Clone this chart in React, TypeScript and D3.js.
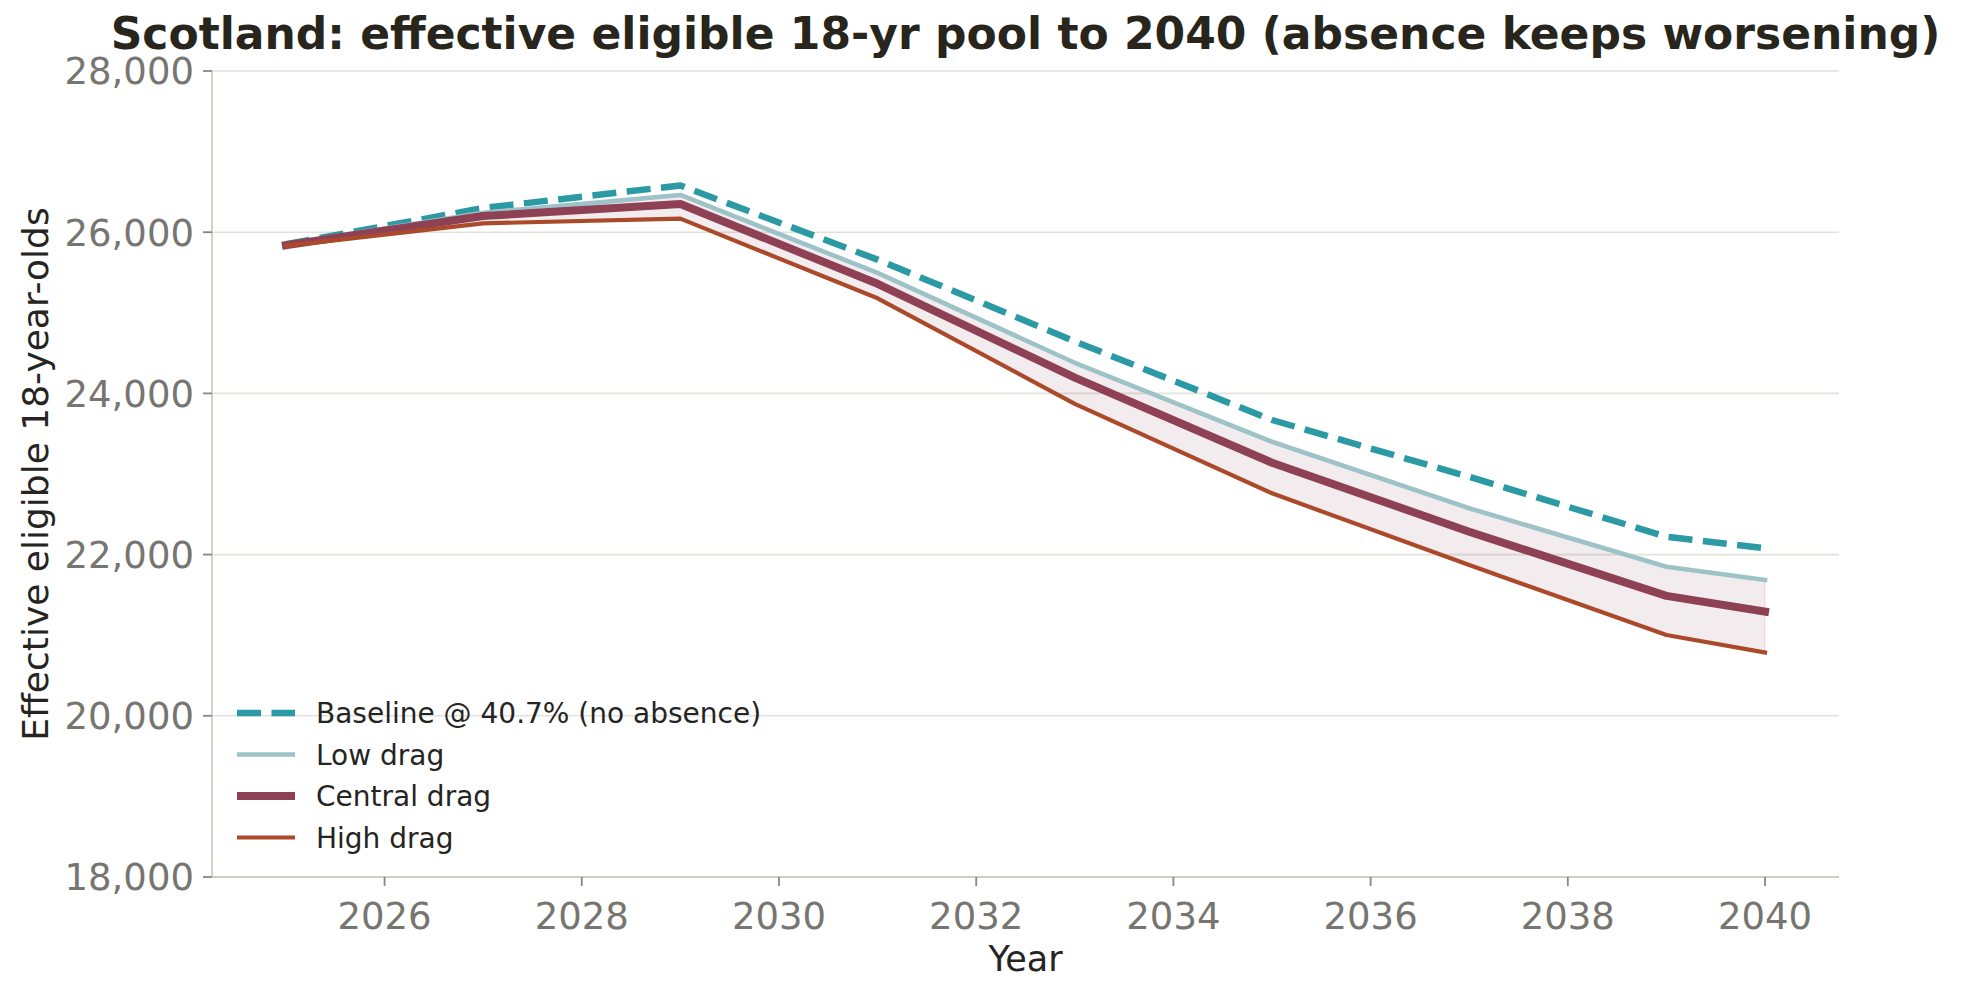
import React from 'react';
import * as d3 from 'd3';

// Values
const years = [2025, 2027, 2029, 2031, 2033, 2035, 2037, 2039, 2040];
const baseline = [25850, 26300, 26580, 25660, 24645, 23670, 22965, 22222, 22080];
const lowDrag = [25850, 26240, 26462, 25495, 24380, 23400, 22575, 21850, 21685];
const centralDrag = [25840, 26200, 26350, 25360, 24195, 23140, 22284, 21488, 21292];
const highDrag = [25830, 26110, 26168, 25180, 23870, 22760, 21871, 21002, 20785];

const xTicks = [2026, 2028, 2030, 2032, 2034, 2036, 2038, 2040];
const yTicks = [18000, 20000, 22000, 24000, 26000, 28000];

const seriesNames = ['Baseline @ 40.7% (no absence)', 'Low drag', 'Central drag', 'High drag'];

const W = 1963, H = 1002;
const margin = { top: 71, right: 124, bottom: 125, left: 212 };
const FONT = '"DejaVu Sans", sans-serif';

type Pt = { year: number; v: number };
const toPts = (vals: number[]): Pt[] => years.map((year, i) => ({ year, v: vals[i] }));

export default function App() {
  const x = d3.scaleLinear().domain([2024.25, 2040.75]).range([margin.left, W - margin.right]);
  const y = d3.scaleLinear().domain([18000, 28000]).range([H - margin.bottom, margin.top]);

  const line = d3.line<Pt>().x(d => x(d.year)).y(d => y(d.v));
  const band = d3.area<number>()
    .x((_, i) => x(years[i]))
    .y0((_, i) => y(highDrag[i]))
    .y1(d => y(d));

  const fmt = d3.format(',');

  const styles = [
    { color: '#2b9aa4', width: 6.5, dash: '24 10.5' },
    { color: '#9dc3c8', width: 4.6, dash: '' },
    { color: '#8e4155', width: 8, dash: '' },
    { color: '#ab4a2b', width: 4.2, dash: '' },
  ];
  const data = [baseline, lowDrag, centralDrag, highDrag];

  const x0 = margin.left, x1 = W - margin.right;
  const y0 = H - margin.bottom, y1 = margin.top;
  const tickLen = 9;

  return (
    <div style={{ position: 'absolute', left: 0, top: 0 }}>
      <svg width={W} height={H} style={{ display: 'block', background: '#fff' }} fontFamily={FONT}>
        {/* grid */}
        {yTicks.map(t => (
          <line key={'g' + t} x1={x0} x2={x1} y1={y(t)} y2={y(t)} stroke="#e3e1dc" strokeWidth={1.6} />
        ))}

        {/* band between low and high drag */}
        <path d={band(lowDrag) || ''} fill="#8e4155" fillOpacity={0.1} stroke="#8e4155" strokeOpacity={0.1} strokeWidth={1.5} />

        {/* series */}
        {data.map((vals, i) => (
          <path key={i} d={line(toPts(vals)) || ''} fill="none" stroke={styles[i].color}
            strokeWidth={styles[i].width} strokeDasharray={styles[i].dash || undefined}
            strokeLinejoin="round" strokeLinecap={styles[i].dash ? 'butt' : 'square'} />
        ))}

        {/* spines */}
        <line x1={x0} x2={x0} y1={y1} y2={y0} stroke="#cfccc6" strokeWidth={1.8} />
        <line x1={x0} x2={x1} y1={y0} y2={y0} stroke="#cfccc6" strokeWidth={1.8} />

        {/* y axis */}
        {yTicks.map(t => (
          <g key={'y' + t}>
            <line x1={x0 - tickLen} x2={x0} y1={y(t)} y2={y(t)} stroke="#8a8780" strokeWidth={1.8} />
            <text x={x0 - tickLen - 9} y={y(t)} dy="0.36em" textAnchor="end" fontSize={37} fill="#77756f">{fmt(t)}</text>
          </g>
        ))}

        {/* x axis */}
        {xTicks.map(t => (
          <g key={'x' + t}>
            <line x1={x(t)} x2={x(t)} y1={y0} y2={y0 + tickLen} stroke="#8a8780" strokeWidth={1.8} />
            <text x={x(t)} y={y0 + tickLen + 43} textAnchor="middle" fontSize={37} fill="#77756f">{t}</text>
          </g>
        ))}

        {/* axis labels */}
        <text x={(x0 + x1) / 2} y={971} textAnchor="middle" fontSize={35} fill="#25241f">Year</text>
        <text transform={`translate(48,${(y0 + y1) / 2}) rotate(-90)`} textAnchor="middle" fontSize={36} fill="#25241f">
          Effective eligible 18-year-olds
        </text>

        {/* title */}
        <text x={(x0 + x1) / 2} y={49} textAnchor="middle" fontSize={44} fontWeight="bold" fill="#27251c">
          Scotland: effective eligible 18-yr pool to 2040 (absence keeps worsening)
        </text>

        {/* legend */}
        {seriesNames.map((name, i) => {
          const ly = 713 + i * 41.5;
          return (
            <g key={'l' + i}>
              <line x1={237} x2={295} y1={ly} y2={ly} stroke={styles[i].color} strokeWidth={styles[i].width}
                strokeDasharray={styles[i].dash || undefined} />
              <text x={316} y={ly} dy="0.36em" fontSize={28} fill="#25241f">{name}</text>
            </g>
          );
        })}
      </svg>
    </div>
  );
}
